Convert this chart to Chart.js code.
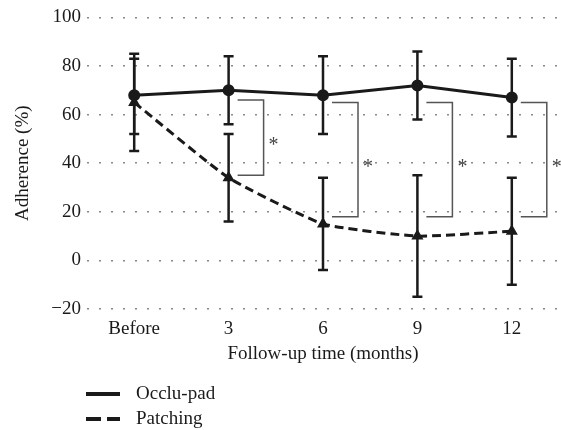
<!DOCTYPE html>
<html>
<head>
<meta charset="utf-8">
<script src="https://cdn.jsdelivr.net/npm/chart.js@4/dist/chart.umd.min.js"></script>
<style>
  body { margin: 0; background: #fff; overflow: hidden; }
  #wrap { position: relative; width: 561px; height: 430px; }
  canvas { display: block; }
  #legend { position: absolute; left: 86px; top: 381px; font-family: "Liberation Serif", serif; font-size: 19px; color: #1a1a1a; }
  .row { position: relative; height: 25px; }
  .sample { position: absolute; left: 0; top: 11px; width: 34px; height: 4px; }
  .solid { background: #1a1a1a; }
  .dashed { background: linear-gradient(to right, #1a1a1a 0 15px, transparent 15px 21px, #1a1a1a 21px 34px); }
  .row span { position: absolute; left: 50px; top: 1px; white-space: nowrap; }
</style>
</head>
<body>
<div id="wrap">
  <canvas id="grafico" width="561" height="430"></canvas>
  <div id="legend">
    <div class="row"><div class="sample solid"></div><span>Occlu-pad</span></div>
    <div class="row"><div class="sample dashed"></div><span>Patching</span></div>
  </div>
</div>
<script>
// dados
const categorias = ['Before', '3', '6', '9', '12'];
const occluMedia = [68, 70, 68, 72, 67];
const occluSup = [83, 84, 84, 86, 83];
const occluInf = [52, 56, 52, 58, 51];
const patchMedia = [65, 34, 15, 10, 12];
const patchSup = [85, 52, 34, 35, 34];
const patchInf = [45, 16, -4, -15, -10];
const yTicks = [-20, 0, 20, 40, 60, 80, 100];
// colchetes de significância: [índice, topo, base]
const colchetes = [[1, 66, 35], [2, 65, 18], [3, 65, 18], [4, 65, 18]];

const PRETO = '#1a1a1a';
const FONTE = '"Liberation Serif", serif';

// barras de erro
const barrasErro = {
  id: 'barrasErro',
  beforeDatasetsDraw(chart) {
    const { ctx, scales: { x, y } } = chart;
    ctx.save();
    ctx.strokeStyle = PRETO;
    ctx.lineWidth = 2.5;
    [[occluSup, occluInf], [patchSup, patchInf]].forEach(([sup, inf]) => {
      categorias.forEach((c, i) => {
        const px = x.getPixelForValue(i);
        const y1 = y.getPixelForValue(sup[i]);
        const y2 = y.getPixelForValue(inf[i]);
        ctx.beginPath();
        ctx.moveTo(px, y1); ctx.lineTo(px, y2);
        ctx.moveTo(px - 5, y1); ctx.lineTo(px + 5, y1);
        ctx.moveTo(px - 5, y2); ctx.lineTo(px + 5, y2);
        ctx.stroke();
      });
    });
    ctx.restore();
  }
};

// colchetes com asterisco
const marcasSig = {
  id: 'marcasSig',
  afterDraw(chart) {
    const { ctx, scales: { x, y } } = chart;
    ctx.save();
    ctx.strokeStyle = '#555';
    ctx.fillStyle = '#444';
    ctx.lineWidth = 1.5;
    ctx.font = '20px ' + FONTE;
    ctx.textAlign = 'center';
    ctx.textBaseline = 'middle';
    colchetes.forEach(([i, topo, base]) => {
      const px = x.getPixelForValue(i);
      const yt = y.getPixelForValue(topo);
      const yb = y.getPixelForValue(base);
      ctx.beginPath();
      ctx.moveTo(px + 9, yt);
      ctx.lineTo(px + 35, yt);
      ctx.lineTo(px + 35, yb);
      ctx.lineTo(px + 9, yb);
      ctx.stroke();
      ctx.fillText('*', px + 45, (yt + yb) / 2 + 8);
    });
    ctx.restore();
  }
};

new Chart(document.getElementById('grafico'), {
  type: 'line',
  data: {
    labels: categorias,
    datasets: [
      {
        label: 'Occlu-pad',
        data: occluMedia,
        borderColor: PRETO,
        backgroundColor: PRETO,
        borderWidth: 3,
        pointStyle: 'circle',
        pointRadius: 4.5,
        tension: 0
      },
      {
        label: 'Patching',
        data: patchMedia,
        borderColor: PRETO,
        backgroundColor: PRETO,
        borderWidth: 3,
        borderDash: [9, 5],
        pointStyle: 'triangle',
        pointRadius: 4,
        tension: 0.15
      }
    ]
  },
  options: {
    responsive: false,
    animation: false,
    layout: { autoPadding: false, padding: { top: 16, right: 2, bottom: 61, left: 0 } },
    plugins: { legend: { display: false }, tooltip: { enabled: false } },
    scales: {
      x: {
        offset: true,
        grid: { display: false, drawTicks: false },
        border: { display: false },
        ticks: { color: PRETO, font: { family: FONTE, size: 19 }, padding: 9 },
        title: { display: true, text: 'Follow-up time (months)', color: PRETO, font: { family: FONTE, size: 19 }, padding: 4 },
        afterFit: s => { s.height = 60; s.paddingLeft = 0; s.paddingRight = 0; }
      },
      y: {
        min: -20,
        max: 100,
        afterBuildTicks: s => { s.ticks = yTicks.map(v => ({ value: v })); },
        grid: { color: '#888', lineWidth: 1.5, drawTicks: false },
        border: { display: false, dash: [2, 10] },
        ticks: {
          color: PRETO,
          font: { family: FONTE, size: 19 },
          padding: 6,
          callback: v => v < 0 ? '\u2212' + Math.abs(v) : v
        },
        title: { display: true, text: 'Adherence (%)', color: PRETO, font: { family: FONTE, size: 19 }, padding: { top: 12, bottom: 0 } },
        afterFit: s => { s.width = 87; }
      }
    }
  },
  plugins: [barrasErro, marcasSig]
});
</script>
</body>
</html>
